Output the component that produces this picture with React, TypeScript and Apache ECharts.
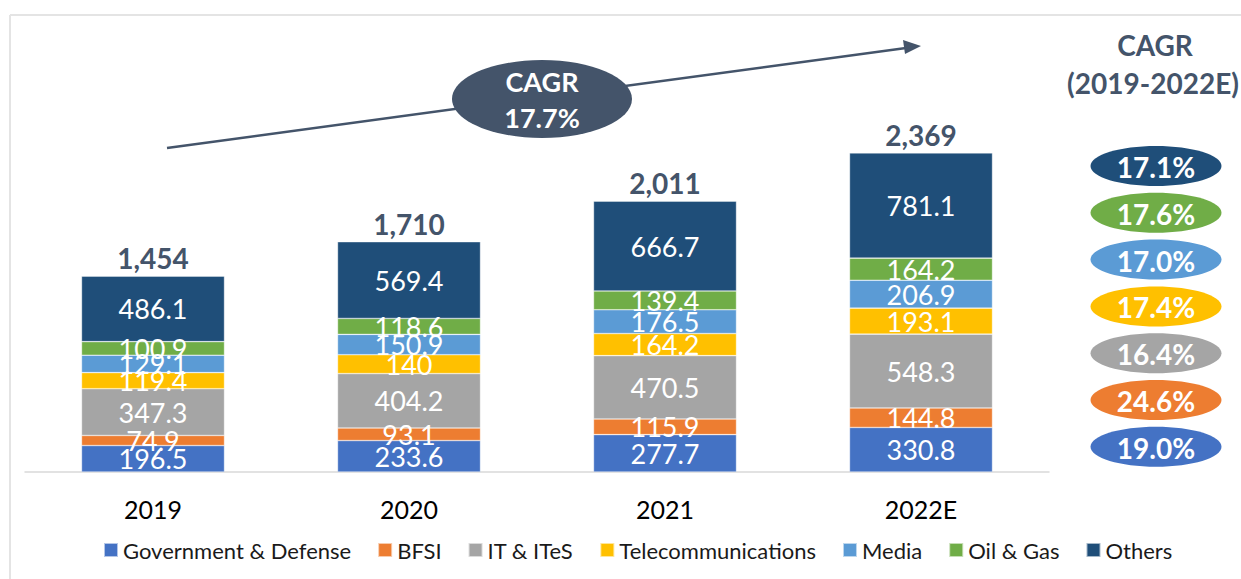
import React, { useEffect, useRef } from "react";
import * as echarts from "echarts";

const categories = ["2019", "2020", "2021", "2022E"];
const seriesNames = ["Government & Defense", "BFSI", "IT & ITeS", "Telecommunications", "Media", "Oil & Gas", "Others"];
const govDefense = [196.5, 233.6, 277.7, 330.8];
const bfsi = [74.9, 93.1, 115.9, 144.8];
const itItes = [347.3, 404.2, 470.5, 548.3];
const telecom = [119.4, 140, 164.2, 193.1];
const media = [129.1, 150.9, 176.5, 206.9];
const oilGas = [100.9, 118.6, 139.4, 164.2];
const others = [486.1, 569.4, 666.7, 781.1];
const totals = ["1,454", "1,710", "2,011", "2,369"];
const colors = ["#4472c4", "#ed7d31", "#a5a5a5", "#ffc000", "#5b9bd5", "#70ad47", "#1f4e79"];
// CAGR badges, top to bottom
const cagrValues = ["17.1%", "17.6%", "17.0%", "17.4%", "16.4%", "24.6%", "19.0%"];
const cagrColors = ["#1f4e79", "#70ad47", "#5b9bd5", "#ffc000", "#a5a5a5", "#ed7d31", "#4472c4"];
const overallCagr = "17.7%";

const FONT = "Lato, 'Noto Sans', sans-serif";
const DARK = "#44546a";

export default function App() {
  const ref = useRef<HTMLDivElement>(null);
  useEffect(() => {
    if (!ref.current) return;
    const chart = echarts.init(ref.current, undefined, { renderer: "svg" });
    const values = [govDefense, bfsi, itItes, telecom, media, oilGas, others];
    const barSeries: any[] = values.map((v, i) => ({
      name: seriesNames[i],
      type: "bar",
      stack: "total",
      barWidth: 143,
      data: v,
      itemStyle: { color: colors[i], borderColor: "rgba(255,255,255,0.6)", borderWidth: 0.6 },
      label: {
        show: true,
        position: "inside",
        color: "#ffffff",
        fontSize: 27,
        fontFamily: FONT,
        formatter: (p: any) => String(p.value),
      },
    }));
    barSeries.push({
      name: "Total",
      type: "bar",
      stack: "total",
      barWidth: 143,
      data: totals.map(() => 0),
      itemStyle: { color: "transparent" },
      label: {
        show: true,
        position: "top",
        distance: 4,
        color: DARK,
        fontSize: 28,
        fontWeight: "bold",
        fontFamily: FONT,
        formatter: (p: any) => totals[p.dataIndex],
      },
    });

    const graphics: any[] = [
      { type: "line", shape: { x1: 10, y1: 15, x2: 1241, y2: 15 }, style: { stroke: "#e4e4e4", lineWidth: 2 } },
      { type: "line", shape: { x1: 10, y1: 15, x2: 10, y2: 579 }, style: { stroke: "#e4e4e4", lineWidth: 2 } },
      { type: "line", shape: { x1: 167, y1: 148, x2: 906, y2: 48 }, style: { stroke: DARK, lineWidth: 2.5 } },
      { type: "polygon", shape: { points: [[921, 46], [903, 40], [905, 54]] }, style: { fill: DARK } },
      { type: "ellipse", shape: { cx: 542, cy: 99, rx: 90, ry: 39 }, style: { fill: DARK } },
      {
        type: "text", x: 542, y: 81,
        style: { text: "CAGR", fill: "#fff", font: `bold 27px ${FONT}`, align: "center", verticalAlign: "middle" },
      },
      {
        type: "text", x: 542, y: 117,
        style: { text: overallCagr, fill: "#fff", font: `bold 27px ${FONT}`, align: "center", verticalAlign: "middle" },
      },
      {
        type: "text", x: 1155, y: 45,
        style: { text: "CAGR", fill: DARK, font: `bold 28px ${FONT}`, align: "center", verticalAlign: "middle" },
      },
      {
        type: "text", x: 1153, y: 83,
        style: { text: "(2019-2022E)", fill: DARK, font: `bold 28px ${FONT}`, align: "center", verticalAlign: "middle" },
      },
    ];
    cagrValues.forEach((t, i) => {
      const cy = 166 + i * 46.8;
      graphics.push({ type: "ellipse", shape: { cx: 1156, cy, rx: 65.5, ry: 20 }, style: { fill: cagrColors[i] } });
      graphics.push({
        type: "text", x: 1156, y: cy + 1,
        style: { text: t, fill: "#fff", font: `bold 28px ${FONT}`, align: "center", verticalAlign: "middle" },
      });
    });

    chart.setOption({
      animation: false,
      textStyle: { fontFamily: FONT },
      grid: { left: 25, right: 192, top: 68, bottom: 107, containLabel: false },
      legend: {
        data: seriesNames,
        left: 98,
        top: 534,
        itemWidth: 14,
        itemHeight: 14,
        itemGap: 26,
        icon: "rect",
        textStyle: { fontSize: 22, color: "#1a1a1a", fontFamily: FONT },
      },
      xAxis: {
        type: "category",
        data: categories,
        axisTick: { show: false },
        axisLine: { lineStyle: { color: "#d9d9d9", width: 1.5 } },
        axisLabel: { color: "#000", fontSize: 25, margin: 24, fontFamily: FONT },
      },
      yAxis: { type: "value", min: 0, max: 3000, show: false, splitLine: { show: false } },
      series: barSeries,
      graphic: graphics,
    });
    return () => chart.dispose();
  }, []);
  return <div ref={ref} style={{ position: "fixed", left: 0, top: 0, width: 1241, height: 579, background: "#fff" }} />;
}
